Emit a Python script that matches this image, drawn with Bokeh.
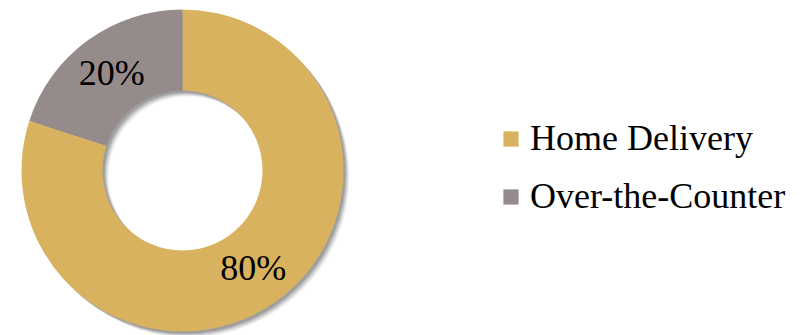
import math
from bokeh.plotting import figure
from bokeh.models import Range1d, ColumnDataSource, Legend, LegendItem
from bokeh.core.properties import value
from bokeh.embed import file_html
from bokeh.resources import INLINE

# ---- data ----
categories = ["Home Delivery", "Over-the-Counter"]
shares = [80, 20]
colors = ["#D8B25E", "#958B8B"]

# ---- layout constants ----
W, H = 808, 335
CX, CY = 182, 165
R_OUT, R_IN = 161, 80
FONT = "Liberation Serif"
FS = "36px"

total = sum(shares)
starts, ends, labels, lx, ly = [], [], [], [], []
cum = 0
for s in shares:
    a_end = math.pi / 2 - 2 * math.pi * cum / total
    cum += s
    a_start = math.pi / 2 - 2 * math.pi * cum / total
    starts.append(a_start)
    ends.append(a_end)
    m = (a_start + a_end) / 2
    rm = (R_OUT + R_IN) / 2
    lx.append(CX + rm * math.cos(m))
    ly.append(CY + rm * math.sin(m))
    labels.append(f"{round(100 * s / total)}%")

src = ColumnDataSource(dict(cat=categories, val=shares, color=colors,
                            start=starts, end=ends, lx=lx, ly=ly, lab=labels))

p = figure(width=W, height=H, x_range=Range1d(0, W), y_range=Range1d(0, H),
           output_backend="svg", toolbar_location=None, min_border=0)
p.axis.visible = False
p.grid.visible = False
p.outline_line_color = None
p.background_fill_color = "white"

# soft drop shadow
for off, alpha in [(6, 0.05), (5, 0.07), (4, 0.09), (3, 0.11), (2, 0.12)]:
    p.annulus(x=[CX + off], y=[CY - off], inner_radius=R_IN, outer_radius=R_OUT,
              fill_color="black", fill_alpha=alpha, line_color=None)

wedges = p.annular_wedge(x=CX, y=CY, inner_radius=R_IN, outer_radius=R_OUT,
                         start_angle="start", end_angle="end",
                         fill_color="color", line_color=None, source=src)

p.text(x="lx", y="ly", text="lab", source=src, text_align="center",
       text_baseline="middle", text_font=value(FONT), text_font_size=FS,
       text_color="black")

legend = Legend(items=[LegendItem(label=c, renderers=[wedges], index=i)
                       for i, c in enumerate(categories)],
                location=(501, 118), orientation="vertical",
                glyph_width=19, glyph_height=19, label_standoff=10,
                spacing=16, padding=0, margin=0,
                label_text_font=FONT, label_text_font_size=FS,
                label_text_color="black",
                border_line_color=None, background_fill_alpha=0)
p.add_layout(legend, "center")

open("out.html", "w").write(file_html(p, INLINE))
